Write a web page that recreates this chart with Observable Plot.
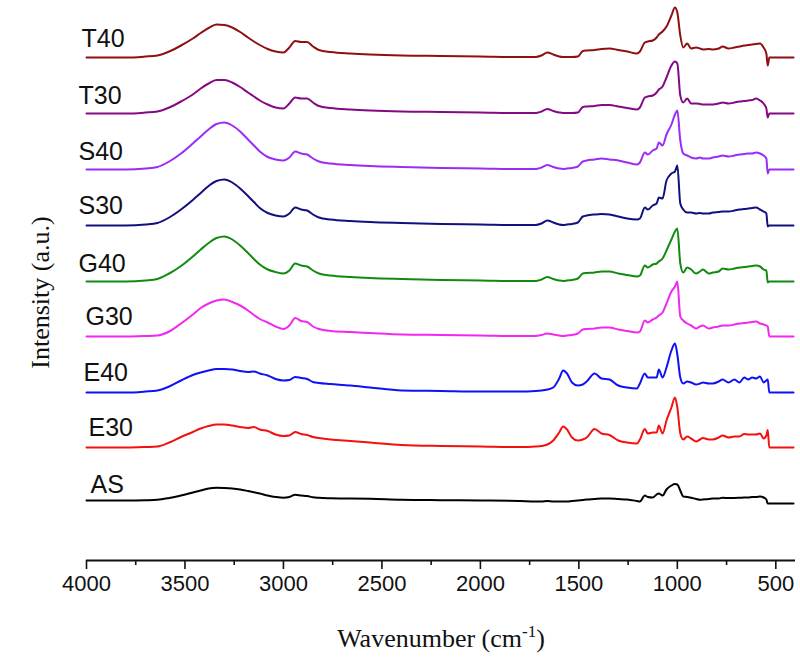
<!DOCTYPE html>
<html><head><meta charset="utf-8">
<script src="https://cdn.jsdelivr.net/npm/d3@7"></script>
<script src="https://cdn.jsdelivr.net/npm/@observablehq/plot@0.6"></script>
<style>
body{margin:0;background:#fff}
#chart{width:800px;height:660px}
</style>
</head><body><div id="chart"></div>
<script>
// ---- data ----
const wavenumber = [4000, 3800, 3700, 3640, 3580, 3520, 3460, 3420, 3380, 3340,
 3300, 3260, 3220, 3180, 3150, 3120, 3080, 3040, 3000, 2970,
 2940, 2910, 2880, 2850, 2820, 2760, 2660, 2560, 2400, 2200,
 2000, 1800, 1720, 1690, 1660, 1630, 1600, 1580, 1560, 1535,
 1505, 1480, 1460, 1420, 1385, 1345, 1300, 1255, 1205, 1190,
 1165, 1150, 1125, 1105, 1094, 1075, 1055, 1030, 1012, 1000,
 985, 970, 950, 930, 905, 885, 870, 840, 820, 790,
 770, 740, 710, 685, 660, 640, 620, 600, 580, 562,
 548, 541, 533, 500, 450, 410];

const T40 = [0, 0, 1, 2, 6, 12, 19, 24.5, 29.5, 33,
 32.5, 30, 25.5, 20, 16, 12.5, 8.5, 6, 5, 10,
 16.5, 15.5, 15.5, 11, 7.5, 5.5, 4, 3, 2, 1.5,
 1, 0.5, 0.5, 2, 5, 3, 1, 0.5, 0.5, 0.5,
 1, 6.5, 7, 7.5, 8.5, 9, 7.5, 6, 4, 6,
 15, 16, 17, 20, 23, 26, 31, 42, 50, 45,
 22, 10, 14, 9, 10, 9, 8, 8.5, 8, 9,
 11, 9, 10, 11, 12, 12.5, 13, 13.5, 14, 10,
 4, -8, 0, 0, 0, 0];
const T30 = [0, 0, 1, 2, 6, 12, 19, 25, 30, 33.5,
 33.5, 31, 26.5, 21, 17, 13, 9, 6, 5, 10,
 16, 15, 15, 11, 7.5, 5.5, 4, 3, 2, 1.5,
 1, 0.5, 0.5, 2, 4.5, 2.5, 1, 0.5, 0.5, 0.5,
 1, 6.5, 7, 7.5, 8.5, 8.5, 7, 5.5, 4, 6,
 16, 17, 18, 21, 24, 27, 36, 48, 52, 50,
 18, 11, 15, 10, 10, 9.5, 9, 9, 9, 10,
 11, 10, 11, 12, 12.5, 13, 13.5, 15, 13, 10,
 5, -4, 0, 0, 0, 0];
const S40 = [0, 0, 1, 2.5, 8, 16, 26, 33, 40, 45.5,
 47, 44, 38, 30, 24, 18, 12.5, 10, 9, 12,
 18, 16, 15, 11, 8, 6, 4.5, 3.5, 2.5, 1.5,
 1, 0.5, 0.5, 2, 4.5, 2.5, 1, 0.5, 1, 1.5,
 3, 8, 9, 10, 11, 10, 9, 7, 5, 7,
 17, 15, 19, 21, 27, 24, 35, 45, 55, 59,
 29, 16, 14, 12, 11, 12, 11, 11, 12, 13,
 14, 13, 14, 15, 15.5, 16, 16, 17, 16, 14,
 11, -4, 0, 0, 0, 0];
const S30 = [0, 0, 1, 2.5, 8, 16, 25.5, 32.5, 39.5, 44.5,
 46, 43, 37, 29.5, 23.5, 17.5, 12.5, 10, 9, 12,
 18, 16, 15, 11, 8, 6, 4.5, 3.5, 2.5, 1.5,
 1, 0.5, 0.5, 2, 5, 3, 1, 0.5, 1, 1.5,
 3, 9, 10, 11, 11.5, 11, 9, 7, 6, 7,
 18, 16, 20, 22, 28, 27, 45, 52, 54, 60,
 22, 16, 13, 13, 12, 12.5, 12, 12, 13, 13.5,
 14, 14, 15, 16, 16.5, 17, 17.5, 18, 16, 14,
 12, -1, 0, 0, 0, 0];
const G40 = [0, 0, 1, 2.5, 8, 15.5, 25, 32, 38.5, 43.5,
 45, 42, 36, 28.5, 22.5, 17, 12, 9.5, 8, 11,
 18, 16, 15, 11, 8, 6, 4.5, 3.5, 2.5, 1.5,
 1, 0.5, 0.5, 2, 4.5, 2.5, 1, 0.5, 1, 1.5,
 3, 8, 8.5, 9, 10, 10, 8, 6.5, 5, 6,
 16, 14, 17, 18, 20, 23, 31, 42, 50, 53,
 18, 9, 14, 12, 8, 10, 12, 8, 9, 10,
 13, 12, 13, 14, 14.5, 15, 15.5, 16, 15, 12,
 11, -1, 0, 0, 0, 0];
const G30 = [0, 0, 0.5, 1, 5, 13, 22, 28.5, 33, 36,
 37, 34.5, 31, 26, 21.5, 17.5, 14, 10, 7.5, 11,
 18.5, 15.5, 14.5, 10, 7.5, 5.5, 4.5, 3.5, 2, 1.5,
 1, 0.5, 0.5, 1.5, 3, 2, 1, 0.5, 1, 1.5,
 3, 7, 7.5, 8, 9, 9, 7, 5.5, 4, 5,
 16, 14, 17, 19, 21, 24, 33, 45, 50, 55,
 20, 16, 13, 11, 8, 10, 11, 8, 9, 10,
 11, 11, 12, 13, 13.5, 14, 14.5, 15, 13, 12,
 11, 10, 0, 0, 0, 0];
const E40 = [0, 0, 1, 2, 6, 12, 17.5, 20, 22, 23.5,
 23.5, 23, 21.5, 20.5, 21, 19, 17, 13.5, 12, 12.5,
 15.5, 14.5, 13.5, 10.5, 9.5, 8.5, 7, 5, 2, 1.5,
 1, 1, 1.5, 2, 3, 5, 14, 22, 19, 10,
 7, 8, 11, 19, 14, 13, 7, 5, 4, 9,
 19, 15, 15, 15, 23, 15, 25, 42, 49, 38,
 15, 9, 11, 10, 8, 9, 10, 9, 9, 11,
 13, 10, 13, 10, 15, 13, 15, 14, 16, 10,
 12, 13, 0, 0, 0, 0];
const E30 = [0, 0, 0.5, 1, 5, 10.5, 15.5, 19, 21.5, 23,
 23, 22, 20.5, 19.5, 20.5, 18, 16.5, 13, 11.5, 12,
 15.5, 13.5, 12.5, 10.5, 9.5, 8, 6.5, 5, 2.5, 1.5,
 1, 0.5, 1, 1.5, 3, 7, 15, 21, 18, 10,
 7, 8, 10, 18.5, 14, 12.5, 7, 5, 4, 8,
 18.5, 14, 15, 15, 22, 14, 27, 40, 50, 40,
 14, 8, 11, 9, 6, 8, 9.5, 8, 8, 10,
 12, 10, 11, 11, 13.5, 13, 13, 13, 14, 9,
 12, 17.5, 0, 0, 0, 0];
const AS = [0, 0, 0.3, 0.7, 2.5, 5, 8, 10, 12, 12.7,
 12.5, 12, 11, 9.5, 8.3, 7, 5, 3.5, 2.7, 3.5,
 5.7, 5, 4.5, 3.2, 2.7, 2.3, 2, 1.7, 0.7, 0.3,
 0, -0.5, -1, -1, -0.5, -1, -1, -1, -1, -0.5,
 0, 0.5, 1, 1.5, 2, 2, 1.5, 1, -0.5, -1,
 5, 3.5, 3, 6, 7, 5, 11, 15, 16.5, 16,
 10, 4, 3.5, 2.7, 1.5, 0.7, 1, 1.5, 2, 2,
 2.7, 2.5, 2.5, 2.7, 3, 3, 3.5, 3.5, 4, 3,
 1, -3, -3, -3, -3, -3];

const seriesNames = ["T40", "T30", "S40", "S30", "G40", "G30", "E40", "E30", "AS"];
const seriesValues = [T40, T30, S40, S30, G40, G30, E40, E30, AS];
const offsets = [443, 387, 331, 275, 219, 164, 108, 53, 0];   // vertical stacking offset (a.u.)
const majorTicks = [4000, 3500, 3000, 2500, 2000, 1500, 1000, 500];
const minorTicks = [3750, 3250, 2750, 2250, 1750, 1250, 750];

// ---- styles / layout ----
const colors = ["#8e1010", "#840a84", "#9b2cf5", "#10107e", "#128a12", "#f028f0", "#1010f5", "#f51010", "#000000"];
const labelDx = [-5, -8, -8, -8, -8, -1, -3, 2, 4];
const labelDy = [-19, -18, -18, -20, -18, -20, -20, -20, -16];
const sans = "'Liberation Sans', Arial, sans-serif";
const serif = "'Liberation Serif', 'Times New Roman', serif";

const rows = seriesNames.flatMap((name, i) =>
  wavenumber.map((w, j) => ({series: name, wn: w, value: seriesValues[i][j] + offsets[i]})));
const labels = seriesNames.map((name, i) => ({name, y: offsets[i], dx: labelDx[i], dy: labelDy[i], i}));

const marks = [];
seriesNames.forEach((name, i) => {
  marks.push(Plot.line(rows.filter(r => r.series === name), {
    x: "wn", y: "value", stroke: colors[i], strokeWidth: 2, curve: "monotone-x"
  }));
});
labels.forEach(l => {
  marks.push(Plot.text([l], {
    x: 4000, y: "y", text: "name", textAnchor: "start", lineAnchor: "middle",
    dx: l.dx, dy: l.dy, fontSize: 25, fontFamily: sans, fill: "#111"
  }));
});
marks.push(Plot.ruleY([-60], {stroke: "#111", strokeWidth: 2}));
marks.push(Plot.axisX({ticks: majorTicks, tickSize: 9, tickPadding: 6, tickFormat: d => String(d),
  fontSize: 22, fontFamily: sans, stroke: "#111", strokeWidth: 1.6, fill: "#111", label: null}));
marks.push(Plot.axisX({ticks: minorTicks, tickSize: 5, tickFormat: () => "", stroke: "#111", strokeWidth: 1.6, label: null}));
marks.push(Plot.text(["Wavenumber (cm-1)"], {frameAnchor: "bottom", dy: 78, lineAnchor: "middle",
  fontSize: 26, fontFamily: serif, fill: "#111"}));
marks.push(Plot.text(["Intensity (a.u.)"], {frameAnchor: "left", dx: -46, dy: 12, rotate: -90,
  textAnchor: "middle", lineAnchor: "middle", fontSize: 26, fontFamily: serif, fill: "#111"}));

const chart = Plot.plot({
  width: 800, height: 660,
  marginLeft: 86, marginRight: 5, marginTop: 0, marginBottom: 100,
  x: {domain: [4000, 400]},
  y: {domain: [-60, 500], axis: null},
  style: {background: "#fff", fontFamily: sans, overflow: "visible"},
  marks
});
document.getElementById("chart").appendChild(chart);

// superscript for the x axis title
chart.querySelectorAll("text").forEach(t => {
  if (t.textContent === "Wavenumber (cm-1)") {
    const ns = "http://www.w3.org/2000/svg";
    t.textContent = "";
    const a = document.createElementNS(ns, "tspan"); a.textContent = "Wavenumber (cm";
    const b = document.createElementNS(ns, "tspan"); b.textContent = "-1"; b.setAttribute("dy", "-10"); b.setAttribute("font-size", "17");
    const c = document.createElementNS(ns, "tspan"); c.textContent = ")"; c.setAttribute("dy", "10");
    t.append(a, b, c);
  }
});
</script>
</body></html>
